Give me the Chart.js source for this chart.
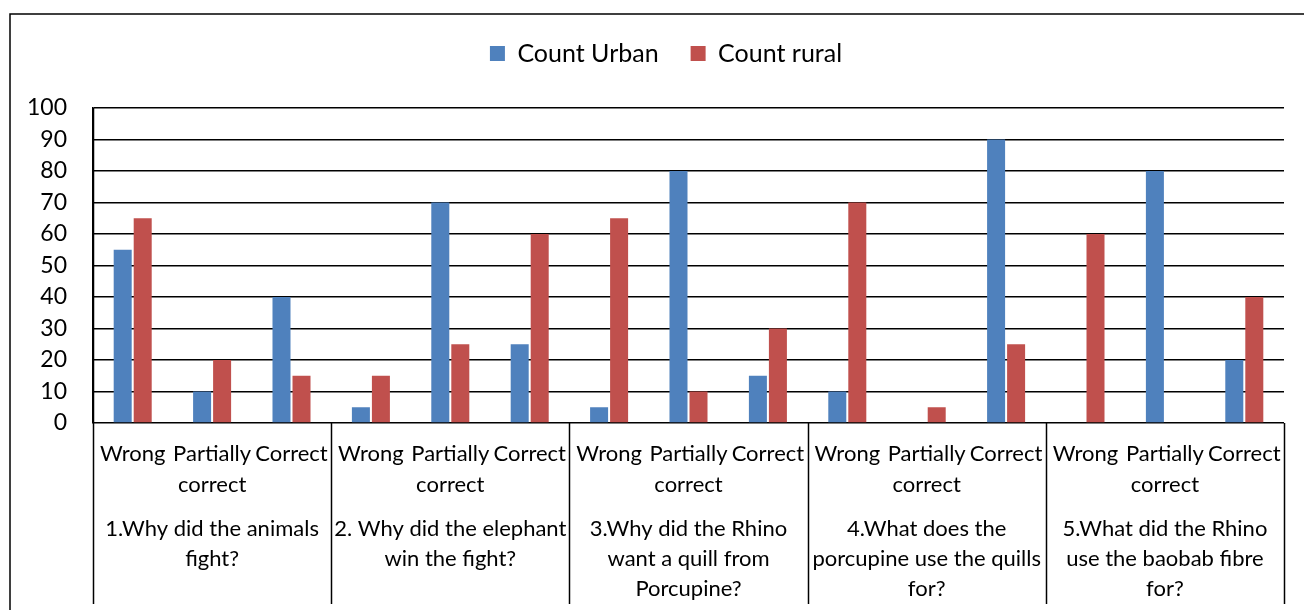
<!DOCTYPE html>
<html>
<head>
<meta charset="utf-8">
<script src="https://cdn.jsdelivr.net/npm/chart.js@4"></script>
<style>
  html, body { margin: 0; padding: 0; background: #fff; }
  #wrap { position: relative; width: 1304px; height: 610px; }
</style>
</head>
<body>
<div id="wrap"><canvas id="c" width="1304" height="610"></canvas></div>
<script>
const answerTypes = [['Wrong'], ['Partially', 'correct'], ['Correct']];
const questions = [
  ['1.Why did the animals', 'fight?'],
  ['2. Why did the elephant', 'win the fight?'],
  ['3.Why did the Rhino', 'want a quill from', 'Porcupine?'],
  ['4.What does the', 'porcupine use the quills', 'for?'],
  ['5.What did the Rhino', 'use the baobab fibre', 'for?']
];
const seriesNames = ['Count Urban', 'Count rural'];
const countUrban = [55, 10, 40, 5, 70, 25, 5, 80, 15, 10, 0, 90, 0, 80, 20];
const countRural = [65, 20, 15, 15, 25, 60, 65, 10, 30, 70, 5, 25, 60, 0, 40];
const yMin = 0, yMax = 100, yStep = 10;

const categories = [];
questions.forEach(() => answerTypes.forEach(a => categories.push(a)));

const FONT = 'Lato, "Open Sans", sans-serif';

const groupAxisPlugin = {
  id: 'groupAxis',
  beforeDraw(chart) {
    const ctx = chart.ctx;
    ctx.save();
    ctx.strokeStyle = '#000';
    ctx.lineWidth = 1.5;
    ctx.beginPath();
    ctx.moveTo(10, 610);
    ctx.lineTo(10, 14);
    ctx.lineTo(1304, 14);
    ctx.stroke();
    ctx.restore();
  },
  afterDraw(chart) {
    const ctx = chart.ctx;
    const x = chart.scales.x;
    const area = chart.chartArea;
    const per = answerTypes.length;
    ctx.save();
    ctx.strokeStyle = '#000';
    ctx.lineWidth = 1.5;
    for (let g = 0; g <= questions.length; g++) {
      const px = Math.round(x.getPixelForValue(g * per - 0.5)) + 0.5;
      ctx.beginPath();
      ctx.moveTo(px, g === 0 ? area.top : area.bottom);
      ctx.lineTo(px, 604);
      ctx.stroke();
    }
    ctx.fillStyle = '#000';
    ctx.font = '22px ' + FONT;
    ctx.textAlign = 'center';
    ctx.textBaseline = 'middle';
    questions.forEach((lines, g) => {
      const cx = (x.getPixelForValue(g * per - 0.5) + x.getPixelForValue(g * per + per - 0.5)) / 2;
      lines.forEach((t, i) => ctx.fillText(t, cx, 529 + i * 30));
    });
    ctx.restore();
  }
};

new Chart(document.getElementById('c'), {
  type: 'bar',
  data: {
    labels: categories,
    datasets: [
      { label: seriesNames[0], data: countUrban, backgroundColor: '#4F81BD', categoryPercentage: 0.504, barPercentage: 0.9 },
      { label: seriesNames[1], data: countRural, backgroundColor: '#C0504D', categoryPercentage: 0.504, barPercentage: 0.9 }
    ]
  },
  options: {
    responsive: false,
    animation: false,
    devicePixelRatio: 1,
    layout: { padding: { left: 28, right: 0, top: 9, bottom: 0 } },
    plugins: {
      legend: {
        position: 'top',
        labels: {
          font: { family: FONT, size: 25 },
          color: '#000',
          boxWidth: 15,
          boxHeight: 15,
          padding: 32
        }
      },
      subtitle: {
        display: true,
        text: '',
        weight: 500,
        font: { size: 10, lineHeight: 1 },
        padding: { top: 0, bottom: 22 }
      },
      tooltip: { enabled: false }
    },
    scales: {
      x: {
        offset: true,
        grid: { display: false, drawTicks: false },
        border: { display: false },
        ticks: {
          autoSkip: false,
          maxRotation: 0,
          minRotation: 0,
          padding: 15,
          color: '#000',
          font: { family: FONT, size: 22, lineHeight: 31 / 22 }
        },
        afterFit(scale) { scale.height = 187; }
      },
      y: {
        min: yMin,
        max: yMax,
        ticks: {
          stepSize: yStep,
          padding: 26,
          color: '#000',
          font: { family: FONT, size: 23 }
        },
        grid: { color: '#000', lineWidth: 1.5, drawTicks: false },
        border: { display: true, color: '#000', width: 1.5 },
        afterFit(scale) { scale.width = 65; }
      },
      yRight: {
        position: 'right',
        display: true,
        grid: { display: false, drawTicks: false },
        border: { display: false },
        ticks: { display: false },
        afterFit(scale) { scale.width = 20; }
      }
    }
  },
  plugins: [groupAxisPlugin]
});
</script>
</body>
</html>
